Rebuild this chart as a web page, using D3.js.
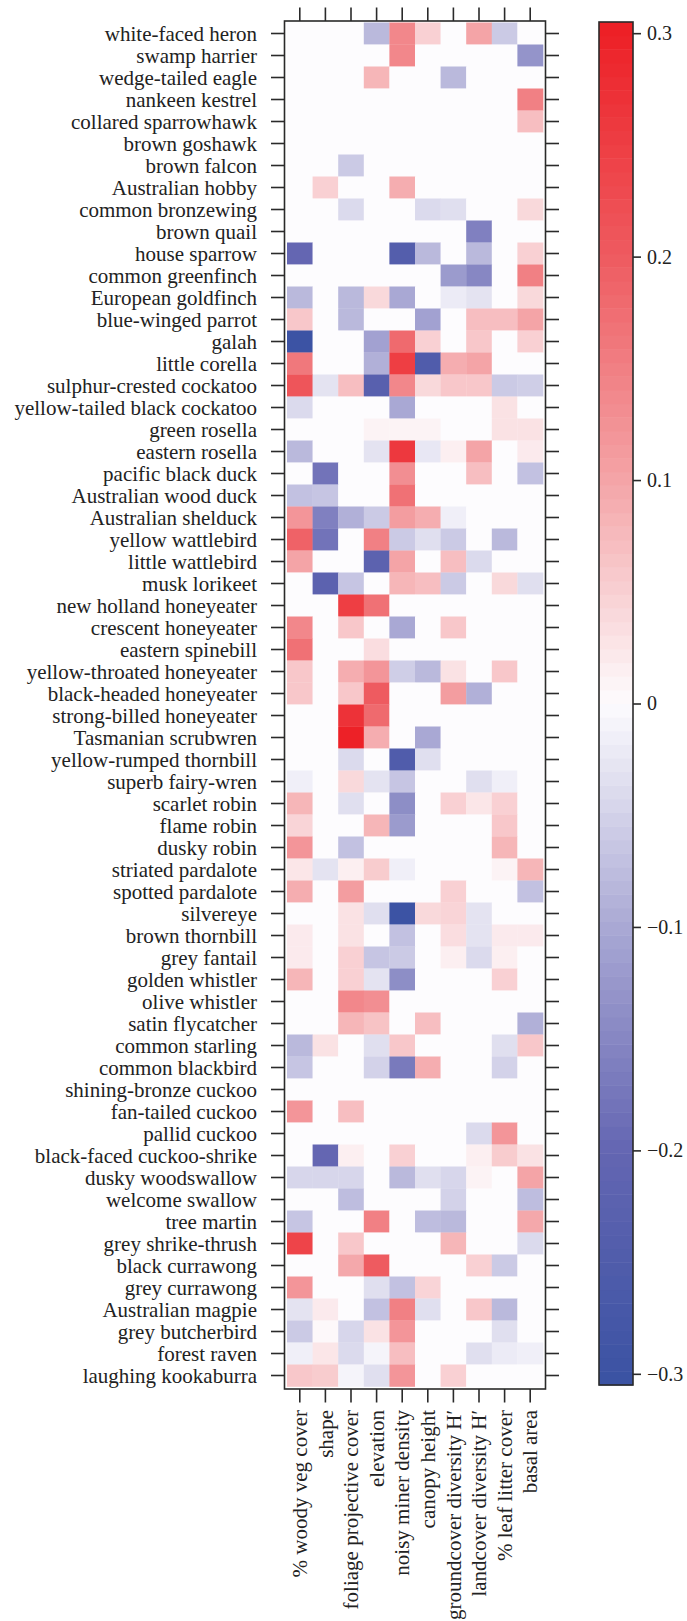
<!DOCTYPE html>
<html>
<head>
<meta charset="utf-8">
<script src="https://cdn.jsdelivr.net/npm/d3@7"></script>
<style>
  body { margin: 0; background: #fff; }
  svg text { font-family: "Liberation Serif", "Times New Roman", serif; fill: #222; }
</style>
</head>
<body>
<svg id="chart" width="687" height="1621"></svg>
<script>
// species (rows, top to bottom)
var birds = ["white-faced heron", "swamp harrier", "wedge-tailed eagle", "nankeen kestrel",
  "collared sparrowhawk", "brown goshawk", "brown falcon", "Australian hobby", "common bronzewing",
  "brown quail", "house sparrow", "common greenfinch", "European goldfinch", "blue-winged parrot",
  "galah", "little corella", "sulphur-crested cockatoo", "yellow-tailed black cockatoo",
  "green rosella", "eastern rosella", "pacific black duck", "Australian wood duck",
  "Australian shelduck", "yellow wattlebird", "little wattlebird", "musk lorikeet",
  "new holland honeyeater", "crescent honeyeater", "eastern spinebill", "yellow-throated honeyeater",
  "black-headed honeyeater", "strong-billed honeyeater", "Tasmanian scrubwren",
  "yellow-rumped thornbill", "superb fairy-wren", "scarlet robin", "flame robin", "dusky robin",
  "striated pardalote", "spotted pardalote", "silvereye", "brown thornbill", "grey fantail",
  "golden whistler", "olive whistler", "satin flycatcher", "common starling", "common blackbird",
  "shining-bronze cuckoo", "fan-tailed cuckoo", "pallid cuckoo", "black-faced cuckoo-shrike",
  "dusky woodswallow", "welcome swallow", "tree martin", "grey shrike-thrush", "black currawong",
  "grey currawong", "Australian magpie", "grey butcherbird", "forest raven", "laughing kookaburra"];

// predictors (columns, left to right)
var variables = ["% woody veg cover", "shape", "foliage projective cover", "elevation",
  "noisy miner density", "canopy height", "groundcover diversity H\u2032",
  "landcover diversity H\u2032", "% leaf litter cover", "basal area"];

// one row per bird, one value per predictor
var values = [
  [0, 0, 0, -0.08, 0.14, 0.05, 0, 0.1, -0.06, 0],
  [0, 0, 0, 0, 0.14, 0, 0, 0, 0, -0.13],
  [0, 0, 0, 0.08, 0, 0, -0.08, 0, 0, 0],
  [0, 0, 0, 0, 0, 0, 0, 0, 0, 0.15],
  [0, 0, 0, 0, 0, 0, 0, 0, 0, 0.07],
  [0, 0, 0, 0, 0, 0, 0, 0, 0, 0],
  [0, 0, -0.06, 0, 0, 0, 0, 0, 0, 0],
  [0, 0.05, 0, 0, 0.09, 0, 0, 0, 0, 0],
  [0, 0, -0.04, 0, 0, -0.04, -0.035, 0, 0, 0.04],
  [0, 0, 0, 0, 0, 0, 0, -0.16, 0, 0],
  [-0.2, 0, 0, 0, -0.24, -0.08, 0, -0.08, 0, 0.05],
  [0, 0, 0, 0, 0, 0, -0.12, -0.15, 0, 0.15],
  [-0.08, 0, -0.08, 0.04, -0.1, 0, -0.02, -0.03, 0, 0.04],
  [0.06, 0, -0.08, 0, 0, -0.11, 0, 0.07, 0.07, 0.1],
  [-0.3, 0, 0, -0.11, 0.18, 0.05, 0, 0.06, 0, 0.05],
  [0.16, 0, 0, -0.09, 0.25, -0.25, 0.09, 0.1, 0, 0],
  [0.21, -0.03, 0.07, -0.23, 0.14, 0.04, 0.06, 0.06, -0.06, -0.055],
  [-0.04, 0, 0, 0, -0.1, 0, 0, 0, 0.03, 0],
  [0, 0, 0, 0.01, 0.01, 0.01, 0, 0, 0.03, 0.03],
  [-0.08, 0, 0, -0.03, 0.26, -0.025, 0.015, 0.1, 0, 0.02],
  [0, -0.18, 0, 0, 0.13, 0, 0, 0.07, 0, -0.07],
  [-0.07, -0.065, 0, 0, 0.17, 0, 0, 0, 0, 0],
  [0.12, -0.16, -0.09, -0.06, 0.11, 0.09, -0.015, 0, 0, 0],
  [0.19, -0.18, 0, 0.15, -0.06, -0.035, -0.06, 0, -0.08, 0],
  [0.1, 0, 0, -0.22, 0.1, 0, 0.07, -0.04, 0, 0],
  [0, -0.22, -0.065, 0, 0.08, 0.07, -0.06, 0, 0.04, -0.035],
  [0, 0, 0.25, 0.17, 0, 0, 0, 0, 0, 0],
  [0.14, 0, 0.06, 0, -0.1, 0, 0.06, 0, 0, 0],
  [0.17, 0, 0, 0.035, 0, 0, 0, 0, 0, 0],
  [0.06, 0, 0.09, 0.12, -0.055, -0.08, 0.03, 0, 0.06, 0],
  [0.06, 0, 0.06, 0.2, 0, 0, 0.11, -0.09, 0, 0],
  [0, 0, 0.27, 0.18, 0, 0, 0, 0, 0, 0],
  [0, 0, 0.3, 0.09, 0, -0.1, 0, 0, 0, 0],
  [0, 0, -0.04, 0, -0.25, -0.035, 0, 0, 0, 0],
  [-0.015, 0, 0.04, -0.03, -0.065, 0, 0, -0.035, -0.015, 0],
  [0.08, 0, -0.035, 0, -0.14, 0, 0.05, 0.025, 0.05, 0],
  [0.045, 0, 0, 0.08, -0.12, 0, 0, 0, 0.06, 0],
  [0.12, 0, -0.07, 0, 0, 0, 0, 0, 0.08, 0],
  [0.025, -0.03, 0.015, 0.055, -0.015, 0, 0, 0, 0.01, 0.08],
  [0.09, 0, 0.11, 0, 0, 0, 0.05, 0, 0, -0.07],
  [0, 0, 0.03, -0.035, -0.3, 0.04, 0.045, -0.03, 0, 0],
  [0.02, 0, 0.03, 0, -0.07, 0, 0.035, -0.03, 0.02, 0.02],
  [0.02, 0, 0.05, -0.065, -0.06, 0, 0.015, -0.04, 0.015, 0],
  [0.08, 0, 0.05, -0.03, -0.14, 0, 0, 0, 0.05, 0],
  [0, 0, 0.14, 0.13, 0, 0, 0, 0, 0, 0],
  [0, 0, 0.08, 0.065, 0, 0.07, 0, 0, 0, -0.09],
  [-0.08, 0.03, 0, -0.035, 0.06, 0, 0, 0, -0.035, 0.06],
  [-0.065, 0, 0, -0.05, -0.17, 0.09, 0, 0, -0.05, 0],
  [0, 0, 0, 0, 0, 0, 0, 0, 0, 0],
  [0.12, 0, 0.07, 0, 0, 0, 0, 0, 0, 0],
  [0, 0, 0, 0, 0, 0, 0, -0.04, 0.12, 0],
  [0, -0.2, 0.015, 0, 0.05, 0, 0, 0.015, 0.055, 0.03],
  [-0.045, -0.045, -0.045, 0, -0.08, -0.035, -0.045, 0.01, 0, 0.1],
  [0, 0, -0.075, 0, 0, 0, -0.05, 0, 0, -0.075],
  [-0.065, 0, 0, 0.15, 0, -0.075, -0.08, 0, 0, 0.095],
  [0.24, 0, 0.06, 0, 0, 0, 0.08, 0, 0, -0.04],
  [0, 0, 0.095, 0.2, 0, 0, 0, 0.05, -0.06, 0],
  [0.12, 0, 0, -0.035, -0.07, 0.045, 0, 0, 0, 0],
  [-0.03, 0.02, 0, -0.07, 0.15, -0.035, 0, 0.06, -0.08, 0],
  [-0.06, 0.005, -0.045, 0.03, 0.12, 0, 0, 0, -0.035, 0],
  [-0.015, 0.025, -0.04, -0.01, 0.07, 0, 0, -0.035, -0.02, -0.015],
  [0.06, 0.055, -0.01, -0.035, 0.12, 0, 0.05, 0, 0, 0]
];

var keyTicks = [-0.3, -0.2, -0.1, 0, 0.1, 0.2, 0.3];
var keyLimit = 0.305;

var svg = d3.select('#chart');

// plot box
var box = { left: 284.5, right: 545.5, top: 21, bottom: 1389 };
var pad = 2.5;

var x = d3.scaleBand()
  .domain(d3.range(variables.length))
  .range([box.left + pad, box.right - pad]);
var y = d3.scaleBand()
  .domain(d3.range(birds.length))
  .range([box.top + 1.5, box.bottom - 2.5]);

var color = d3.scaleLinear()
  .domain([-keyLimit, -0.2, -0.1, 0, 0.1, 0.2, keyLimit])
  .range(["#3a52a3", "#6466b2", "#a9a8d4", "#fdfcfe", "#f4a4a7", "#ee5b60", "#ed1e24"])
  .clamp(true);

// flatten rows into cells
var cells = [];
values.forEach(function(row, i) {
  row.forEach(function(v, j) { cells.push({ row: i, col: j, value: v }); });
});

svg.append('g')
  .selectAll('rect')
  .data(cells)
  .enter()
  .append('rect')
  .attr('x', function(d) { return x(d.col); })
  .attr('y', function(d) { return y(d.row); })
  .attr('width', x.bandwidth() + 0.3)
  .attr('height', y.bandwidth() + 0.3)
  .attr('fill', function(d) { return color(d.value); });

svg.append('rect')
  .attr('x', box.left).attr('y', box.top)
  .attr('width', box.right - box.left).attr('height', box.bottom - box.top)
  .attr('fill', 'none').attr('stroke', '#2a2a2a').attr('stroke-width', 1.6);

// ticks on all four sides
var tickLen = 13.5;
var ticks = svg.append('g').attr('stroke', '#2a2a2a').attr('stroke-width', 1.6);
birds.forEach(function(b, i) {
  var yc = y(i) + y.bandwidth() / 2;
  ticks.append('line').attr('x1', box.left - tickLen).attr('x2', box.left).attr('y1', yc).attr('y2', yc);
  ticks.append('line').attr('x1', box.right).attr('x2', box.right + tickLen).attr('y1', yc).attr('y2', yc);
});
variables.forEach(function(v, j) {
  var xc = x(j) + x.bandwidth() / 2;
  ticks.append('line').attr('x1', xc).attr('x2', xc).attr('y1', box.top - tickLen).attr('y2', box.top);
  ticks.append('line').attr('x1', xc).attr('x2', xc).attr('y1', box.bottom).attr('y2', box.bottom + tickLen);
});

// row labels
svg.append('g')
  .selectAll('text')
  .data(birds)
  .enter()
  .append('text')
  .attr('x', 257)
  .attr('y', function(d, i) { return y(i) + y.bandwidth() / 2; })
  .attr('dy', '0.34em')
  .attr('text-anchor', 'end')
  .style('font-size', '21px')
  .text(function(d) { return d; });

// column labels, rotated
svg.append('g')
  .selectAll('text')
  .data(variables)
  .enter()
  .append('text')
  .attr('transform', function(d, j) {
    return 'translate(' + (x(j) + x.bandwidth() / 2) + ',1410) rotate(-90)';
  })
  .attr('dy', '0.34em')
  .attr('text-anchor', 'end')
  .style('font-size', '21px')
  .text(function(d) { return d; });

// colour key
var key = { left: 599, right: 633, top: 22, bottom: 1385 };
var ky = d3.scaleLinear().domain([-keyLimit, keyLimit]).range([key.bottom, key.top]);
var nBands = 100;
var bandEdges = d3.range(nBands + 1).map(function(k) { return -keyLimit + 2 * keyLimit * k / nBands; });

svg.append('g')
  .selectAll('rect')
  .data(d3.range(nBands))
  .enter()
  .append('rect')
  .attr('x', key.left)
  .attr('width', key.right - key.left)
  .attr('y', function(k) { return ky(bandEdges[k + 1]); })
  .attr('height', function(k) { return ky(bandEdges[k]) - ky(bandEdges[k + 1]) + 0.5; })
  .attr('fill', function(k) { return color((bandEdges[k] + bandEdges[k + 1]) / 2); });

svg.append('rect')
  .attr('x', key.left).attr('y', key.top)
  .attr('width', key.right - key.left).attr('height', key.bottom - key.top)
  .attr('fill', 'none').attr('stroke', '#2a2a2a').attr('stroke-width', 1.6);

var keyAxis = d3.axisRight(ky)
  .tickValues(keyTicks)
  .tickSize(8)
  .tickPadding(6)
  .tickFormat(function(d) { return d === 0 ? '0' : d3.format('.1f')(d).replace('-', '\u2013'); });

var keyG = svg.append('g')
  .attr('transform', 'translate(' + key.right + ',0)')
  .call(keyAxis);
keyG.select('.domain').remove();
keyG.selectAll('line').attr('stroke', '#2a2a2a').attr('stroke-width', 1.6);
keyG.selectAll('text')
  .style('font-family', '"Liberation Serif", "Times New Roman", serif')
  .style('font-size', '20px')
  .attr('fill', '#222');
</script>
</body>
</html>
